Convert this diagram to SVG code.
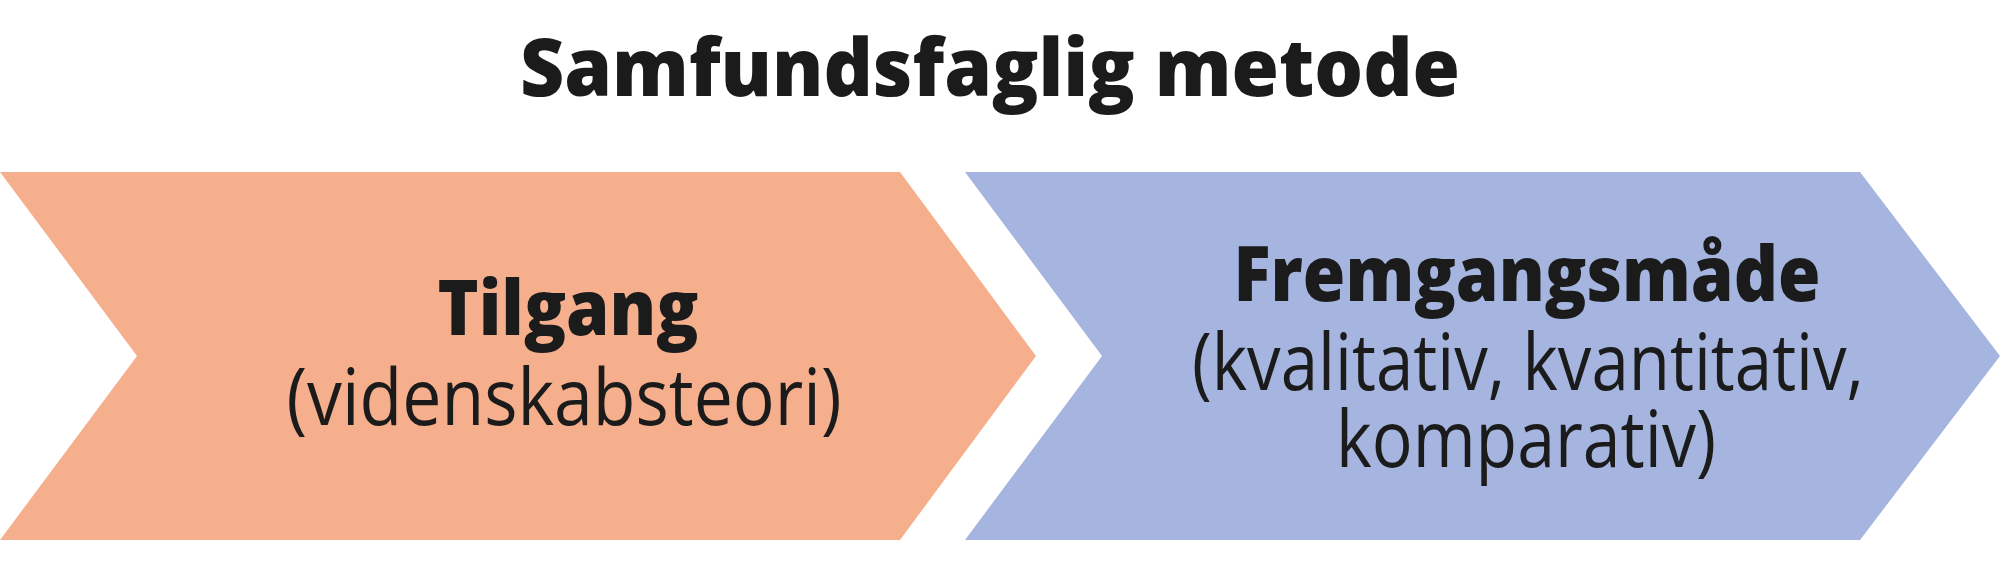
<svg xmlns="http://www.w3.org/2000/svg" width="2000" height="581" viewBox="0 0 2000 581">
<style>
.bg{fill:#ffffff}
.orange{fill:#F6AF8C}
.blue{fill:#A5B5DF}
.t{font-family:"Open Sans","Noto Sans","Liberation Sans",sans-serif;fill:#1b1b1b;text-anchor:middle;font-variant-ligatures:none}
.b{font-weight:800}
.r{font-weight:400}
</style>
<rect class="bg" x="0" y="0" width="2000" height="581"/>
<g id="title">
<text class="t b" x="990" y="96" font-size="79" textLength="940" lengthAdjust="spacingAndGlyphs">Samfundsfaglig metode</text>
</g>
<g id="connectors"></g>
<g id="node-tilgang">
<path class="orange" d="M0,172 L900,172 L1036,356 L900,540 L0,540 L137,356 Z"/>
<text class="t b" x="568" y="335" font-size="77" textLength="261" lengthAdjust="spacingAndGlyphs">Tilgang</text>
<text class="t r" x="564" y="425" font-size="78" textLength="555" lengthAdjust="spacingAndGlyphs">(videnskabsteori)</text>
</g>
<g id="node-fremgangsmaade">
<path class="blue" d="M965,172 L1860,172 L2000,356 L1860,540 L965,540 L1102,356 Z"/>
<text class="t b" x="1527" y="301" font-size="77" textLength="587" lengthAdjust="spacingAndGlyphs">Fremgangsmåde</text>
<text class="t r" x="1528" y="390" font-size="78" textLength="672" lengthAdjust="spacingAndGlyphs">(kvalitativ, kvantitativ,</text>
<text class="t r" x="1526" y="467" font-size="78" textLength="380" lengthAdjust="spacingAndGlyphs">komparativ)</text>
</g>
</svg>
